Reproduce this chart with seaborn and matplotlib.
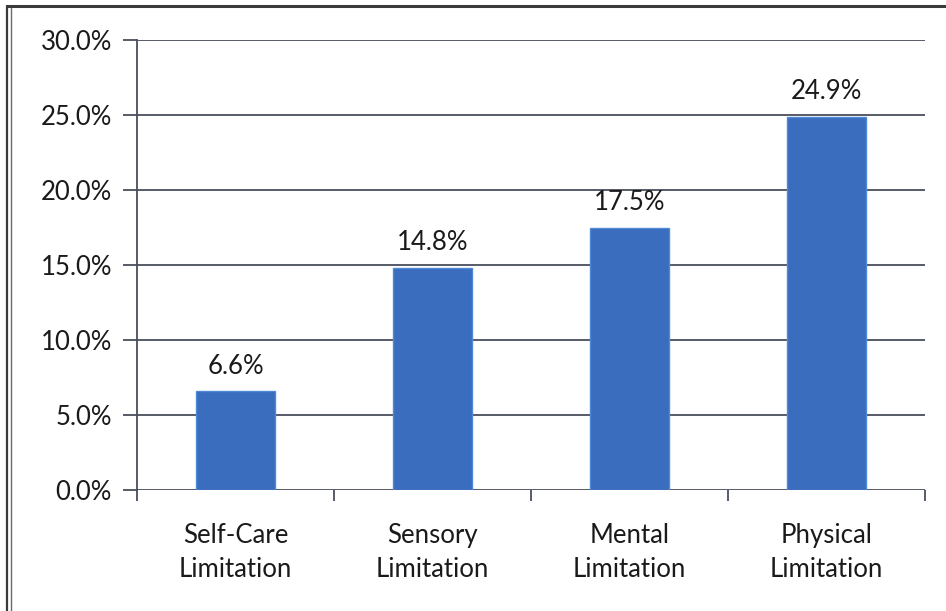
import matplotlib
matplotlib.use("Agg")
import matplotlib.pyplot as plt
from matplotlib.lines import Line2D
from matplotlib.ticker import FixedLocator, FuncFormatter
import seaborn as sns
import pandas as pd

categories = ["Self-Care\nLimitation", "Sensory\nLimitation", "Mental\nLimitation", "Physical\nLimitation"]
values = [6.6, 14.8, 17.5, 24.9]
y_ticks = [0, 5, 10, 15, 20, 25, 30]

sns.set_theme(style="white")
plt.rcParams["font.family"] = ["Lato", "DejaVu Sans"]

df = pd.DataFrame({"category": categories, "value": values})

fig = plt.figure(figsize=(9.46, 6.11), dpi=100)
ax = fig.add_axes([137 / 946, 121 / 611, 788 / 946, 450 / 611])

grid_color = "#4a4e5c"
text_color = "#1a1a1a"
fs = 18.5
sns.barplot(data=df, x="category", y="value", ax=ax, color="#3a6dbd",
            width=0.4, saturation=1, edgecolor="#4f8ad6", linewidth=1.0, zorder=3)

ax.set_xlim(-0.5, 3.5)
ax.set_ylim(0, 30)
ax.set_yticks(y_ticks)
ax.yaxis.set_major_formatter(FuncFormatter(lambda v, _: f"{v:.1f}%"))
for y in y_ticks:
    ax.axhline(y, color=grid_color, lw=1.3, zorder=1)

ax.set_xlabel("")
ax.set_ylabel("")
for side in ["top", "right", "bottom"]:
    ax.spines[side].set_visible(False)
ax.spines["left"].set_color(grid_color)
ax.spines["left"].set_linewidth(1.3)

ax.tick_params(axis="y", which="major", direction="out", length=10, width=1.3,
               color=grid_color, left=True, labelsize=fs, pad=8, labelcolor=text_color)
ax.tick_params(axis="x", which="major", length=0, labelsize=fs, pad=24, labelcolor=text_color)
ax.xaxis.set_minor_locator(FixedLocator([-0.5, 0.5, 1.5, 2.5, 3.5]))
ax.tick_params(axis="x", which="minor", direction="out", length=8, width=1.3,
               color=grid_color, bottom=True)
for lbl in ax.get_xticklabels():
    lbl.set_linespacing(1.45)

for i, v in enumerate(values):
    ax.annotate(f"{v:.1f}%", (i, v), xytext=(0, 9), textcoords="offset points",
                ha="center", va="bottom", fontsize=fs, color=text_color)

# frame around the chart: heavy top rule and a double rule on the left
fig.add_artist(Line2D([7 / 946, 1.0], [1 - 6 / 611, 1 - 6 / 611], transform=fig.transFigure,
                      color="#3a3a3a", lw=2.2))
fig.add_artist(Line2D([7 / 946, 7 / 946], [0, 1 - 6 / 611], transform=fig.transFigure,
                      color="#3a3a3a", lw=1.6))
fig.add_artist(Line2D([10.5 / 946, 10.5 / 946], [0, 1 - 8 / 611], transform=fig.transFigure,
                      color="#6a6a6a", lw=1.0))

fig.savefig("out.png", dpi=100, facecolor="white")
